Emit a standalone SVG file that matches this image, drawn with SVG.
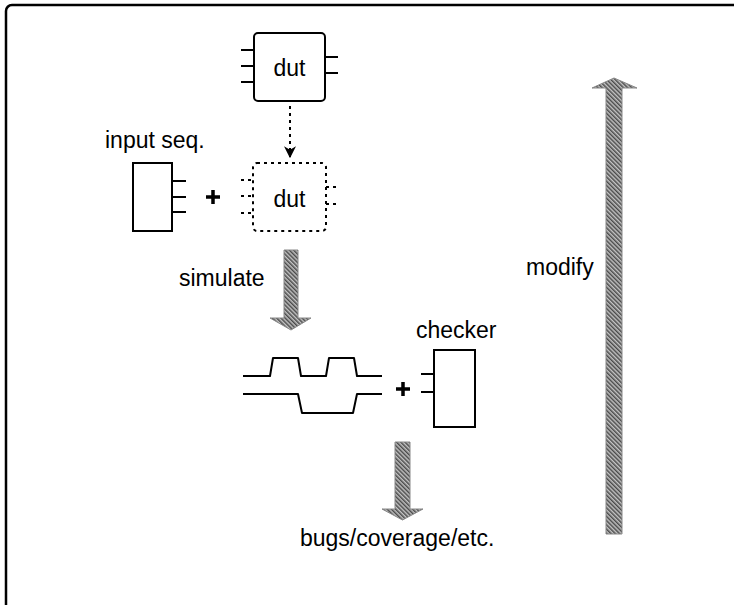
<svg xmlns="http://www.w3.org/2000/svg" width="734" height="605" viewBox="0 0 734 605">
  <style>
    text { font-family: "Liberation Sans", Arial, sans-serif; font-size: 23px; fill: #000; }
    .box { fill: #fff; stroke: #000; stroke-width: 2; }
    .dot { fill: none; stroke: #000; stroke-width: 2; stroke-dasharray: 3 4; }
    .pin { fill: none; stroke: #000; stroke-width: 2; }
    .pindot { fill: none; stroke: #000; stroke-width: 2; stroke-dasharray: 3 4; }
    .wave { fill: none; stroke: #000; stroke-width: 2; stroke-linejoin: round; }
    .plus { fill: none; stroke: #000; stroke-width: 3.5; }
    .fat { fill: url(#hatch); stroke: #888; stroke-width: 1; }
  </style>
  <defs>
    <pattern id="hatch" patternUnits="userSpaceOnUse" width="3" height="3" patternTransform="rotate(-45)">
      <rect width="3" height="3" fill="#c4c4c4"/>
      <rect width="1.5" height="3" fill="#4a4a4a"/>
    </pattern>
    <marker id="tip" viewBox="0 0 10 10" refX="9" refY="5" markerWidth="6" markerHeight="6" orient="auto">
      <path d="M0,0 L10,5 L0,10 L3,5 Z" fill="#000"/>
    </marker>
  </defs>

  <!-- frame -->
  <rect x="6" y="5" width="800" height="700" rx="6" fill="none" stroke="#000" stroke-width="2.5"/>

  <!-- design under test -->
  <g id="dut">
    <path class="pin" d="M241,50 H254 M241,66 H254 M241,82 H254 M325,57 H338 M325,73 H338"/>
    <rect class="box" x="254" y="33" width="71" height="68" rx="4"/>
    <text x="289.5" y="76" text-anchor="middle">dut</text>
  </g>

  <!-- copy of the design placed in the testbench -->
  <g id="dut-copy">
    <path class="pindot" d="M241,180 H253 M241,196 H253 M241,213 H253 M326,187 H339 M326,204 H339"/>
    <rect class="dot" x="253" y="163" width="73" height="68" rx="4"/>
    <text x="289.5" y="207" text-anchor="middle">dut</text>
  </g>

  <!-- stimulus generator -->
  <g id="input-seq">
    <text x="105" y="148">input seq.</text>
    <rect class="box" x="133" y="163" width="39" height="68"/>
    <path class="pin" d="M172,181 H186 M172,197 H186 M172,212 H186"/>
  </g>

  <g id="plus-1">
    <path class="plus" d="M206,197 H220 M213,190 V204"/>
  </g>

  <!-- simulation traces -->
  <g id="waves">
    <path class="wave" d="M243,376 H270 L273,358 H298 L301,376 H326 L329,358 H354 L357,376 H382"/>
    <path class="wave" d="M243,394 H298 L302,413 H353 L357,394 H382"/>
  </g>

  <g id="plus-2">
    <path class="plus" d="M396,389 H410 M403,382 V396"/>
  </g>

  <!-- property checker -->
  <g id="checker">
    <text x="416" y="338">checker</text>
    <path class="pin" d="M421,374 H434 M421,392 H434"/>
    <rect class="box" x="434" y="350" width="41" height="77"/>
  </g>

  <g id="result">
    <text x="300" y="546">bugs/coverage/etc.</text>
  </g>

  <!-- connectors -->
  <g id="connectors">
    <path d="M290,106 V157" fill="none" stroke="#000" stroke-width="2" stroke-dasharray="3 4" marker-end="url(#tip)"/>

    <path class="fat" d="M284,250 H298 V318 H311 L291,330 L270,318 H284 Z"/>
    <text x="179" y="286">simulate</text>

    <path class="fat" d="M395,442 H410 V509 H423 L402.5,520 L382,509 H395 Z"/>

    <path class="fat" d="M606,534 H622 V88 H637 L614,78 L592,88 H606 Z"/>
    <text x="526" y="275">modify</text>
  </g>
</svg>
